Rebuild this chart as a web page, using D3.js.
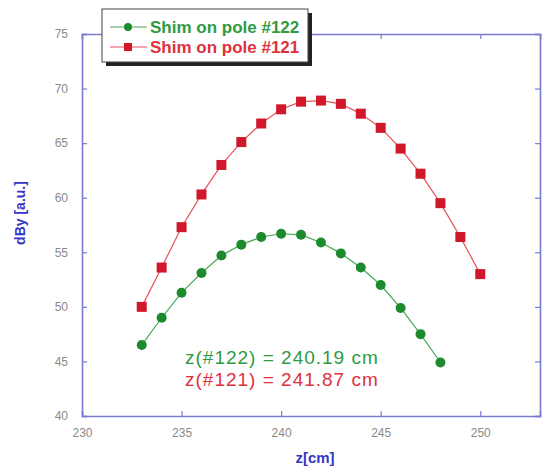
<!DOCTYPE html>
<html>
<head>
<meta charset="utf-8">
<script src="https://cdn.jsdelivr.net/npm/d3@7"></script>
<style>
  body { margin: 0; background: #fff; }
  svg { display: block; font-family: "Liberation Sans", Arial, sans-serif; }
</style>
</head>
<body>
<div id="chart"></div>
<script>
var w = 545, h = 468;
var margin = {top: 34, right: 5, bottom: 52, left: 82};

// data
var zRed = [233, 234, 235, 236, 237, 238, 239, 240, 241, 242, 243, 244, 245, 246, 247, 248, 249, 250];
var dByRed = [50.0, 53.6, 57.3, 60.3, 63.0, 65.1, 66.8, 68.1, 68.8, 68.9, 68.6, 67.7, 66.4, 64.5, 62.2, 59.5, 56.4, 53.0];
var zGreen = [233, 234, 235, 236, 237, 238, 239, 240, 241, 242, 243, 244, 245, 246, 247, 248];
var dByGreen = [46.5, 49.0, 51.3, 53.1, 54.7, 55.7, 56.4, 56.7, 56.6, 55.9, 54.9, 53.6, 52.0, 49.9, 47.5, 44.9];
var xTicks = [230, 235, 240, 245, 250];
var yTicks = [40, 45, 50, 55, 60, 65, 70, 75];
var seriesNames = ["Shim on pole #122", "Shim on pole #121"];
var notes = ["z(#122) = 240.19 cm", "z(#121) = 241.87 cm"];

var green = "#1e8a2e", greenLine = "#4aa85a", greenText = "#2f9a3f";
var red = "#d0182a", redLine = "#e8505a", redText = "#e0303c";
var axisBlue = "#7a7ad0";

var svg = d3.select("#chart").append("svg")
    .attr("width", w)
    .attr("height", h);

var width = w - margin.left - margin.right,
    height = h - margin.top - margin.bottom;

var x = d3.scaleLinear().domain([230, 253]).range([margin.left, margin.left + width]);
var y = d3.scaleLinear().domain([40, 75]).range([margin.top + height, margin.top]);

// axes, ticks point inward
var gx = svg.append("g")
    .attr("transform", "translate(0," + y(40) + ")")
    .call(d3.axisBottom(x).tickValues(xTicks).tickSize(-5).tickPadding(12));
var gy = svg.append("g")
    .attr("transform", "translate(" + x(230) + ",0)")
    .call(d3.axisLeft(y).tickValues(yTicks).tickSize(-5).tickPadding(14));
var gxt = svg.append("g")
    .attr("transform", "translate(0," + y(75) + ")")
    .call(d3.axisTop(x).tickValues(xTicks).tickSize(-5).tickFormat(""));
var gyr = svg.append("g")
    .attr("transform", "translate(" + x(253) + ",0)")
    .call(d3.axisRight(y).tickValues(yTicks).tickSize(-5).tickFormat(""));

[gx, gy, gxt, gyr].forEach(function(g) {
  g.select(".domain").attr("stroke", axisBlue).attr("stroke-width", 1.6);
  g.selectAll(".tick line").attr("stroke", axisBlue).attr("stroke-width", 1.2);
  g.selectAll(".tick text").attr("fill", "#8a8a8a").style("font-size", "12px");
});

// axis titles
svg.append("text")
    .attr("x", 315).attr("y", 463)
    .attr("text-anchor", "middle")
    .style("font-size", "15px").style("font-weight", "bold")
    .attr("fill", "#3535c8")
    .text("z[cm]");

svg.append("text")
    .attr("transform", "translate(25," + 213 + ") rotate(-90)")
    .attr("text-anchor", "middle")
    .style("font-size", "14px").style("font-weight", "bold")
    .attr("fill", "#3535c8")
    .text("dBy [a.u.]");

var line = d3.line()
    .x(function(d) { return x(d[0]); })
    .y(function(d) { return y(d[1]); });

var redData = d3.zip(zRed, dByRed);
var greenData = d3.zip(zGreen, dByGreen);

svg.append("path")
    .datum(redData)
    .attr("d", line)
    .attr("fill", "none").attr("stroke", redLine).attr("stroke-width", 1.2);
svg.append("path")
    .datum(greenData)
    .attr("d", line)
    .attr("fill", "none").attr("stroke", greenLine).attr("stroke-width", 1.2);

svg.selectAll("rect.red")
    .data(redData)
    .enter().append("rect")
    .attr("class", "red")
    .attr("x", function(d) { return x(d[0]) - 5; })
    .attr("y", function(d) { return y(d[1]) - 5; })
    .attr("width", 10).attr("height", 10)
    .attr("fill", red);

svg.selectAll("circle.green")
    .data(greenData)
    .enter().append("circle")
    .attr("class", "green")
    .attr("cx", function(d) { return x(d[0]); })
    .attr("cy", function(d) { return y(d[1]); })
    .attr("r", 5)
    .attr("fill", green);

// annotations
svg.append("text")
    .attr("x", 185).attr("y", 364)
    .style("font-size", "19px").style("letter-spacing", "1px")
    .attr("fill", greenText)
    .text(notes[0]);
svg.append("text")
    .attr("x", 185).attr("y", 386)
    .style("font-size", "19px").style("letter-spacing", "1px")
    .attr("fill", redText)
    .text(notes[1]);

// legend with drop shadow
var lg = svg.append("g");
lg.append("rect")
    .attr("x", 106).attr("y", 13).attr("width", 206).attr("height", 53)
    .attr("fill", "#222");
lg.append("rect")
    .attr("x", 102).attr("y", 9).attr("width", 206).attr("height", 53)
    .attr("fill", "#fff").attr("stroke", "#444").attr("stroke-width", 1);

var rows = [{name: seriesNames[0], c: green, l: greenLine, t: greenText, shape: "circle"},
            {name: seriesNames[1], c: red, l: redLine, t: redText, shape: "square"}];
rows.forEach(function(r, i) {
  var yy = 27 + i * 20;
  lg.append("line")
      .attr("x1", 110).attr("x2", 147).attr("y1", yy).attr("y2", yy)
      .attr("stroke", r.l).attr("stroke-width", 1.2);
  if (r.shape == "circle")
    lg.append("circle").attr("cx", 128).attr("cy", yy).attr("r", 4).attr("fill", r.c);
  else
    lg.append("rect").attr("x", 124).attr("y", yy - 4).attr("width", 8).attr("height", 8).attr("fill", r.c);
  lg.append("text")
      .attr("x", 150).attr("y", yy + 6)
      .style("font-size", "17px").style("font-weight", "bold")
      .attr("fill", r.t)
      .text(r.name);
});
</script>
</body>
</html>
